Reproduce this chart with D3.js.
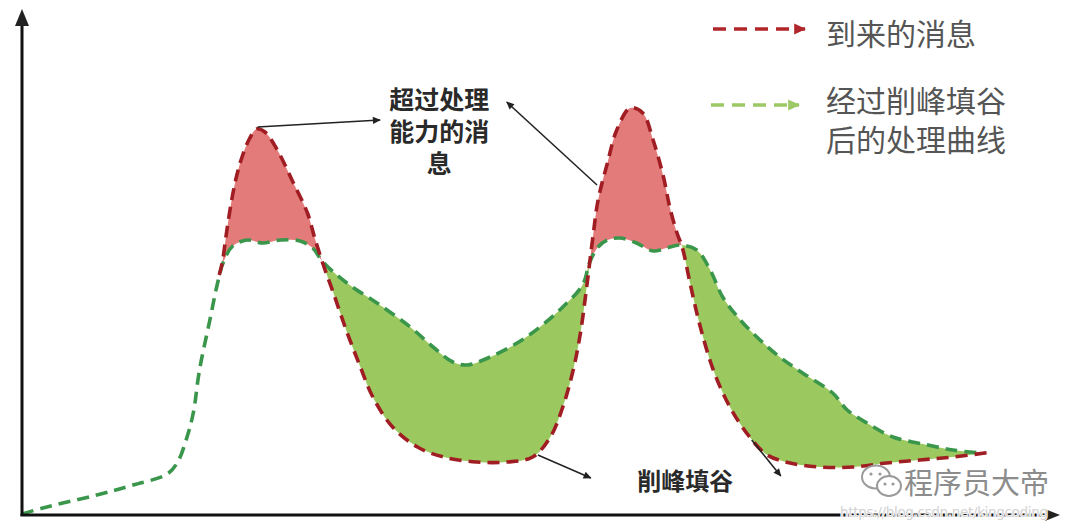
<!DOCTYPE html>
<html><head><meta charset="utf-8">
<script src="https://cdn.jsdelivr.net/npm/d3@7"></script>
<style>html,body{margin:0;padding:0;background:#fff;} svg{display:block;}</style>
</head><body>
<svg id="chart" width="1080" height="529"></svg>
<script>
// ---- data (time units 0..100, load units 0..100) ----
const processedT = [0,2.0,7.2,10.7,14.0,15.0,15.9,16.5,17.1,18.1,18.8,19.4,20.3,21.7,23.2,24.9,26.8,28.0,29.0,31.3,34.2,37.4,39.6,41.5,42.9,45.1,47.7,49.9,52.1,54.0,54.7,55.5,56.4,57.6,59.2,60.8,62.1,63.4,65.0,66.3,67.5,69.2,71.1,73.0,75.2,78.1,79.5,81.4,83.9,86.8,89.7,92.3];
const processedV = [0,1.2,3.8,5.8,8.0,10.4,15.4,20.2,28.8,38.8,45.8,50.4,53.6,54.8,54.2,54.8,54.6,53.2,50.4,46.2,42.2,37.4,33.4,30.4,29.8,31.4,34.2,37.4,41.4,45.8,50.4,53.4,54.8,55.2,54.2,52.6,53.2,53.8,52.8,48.8,43.4,38.8,34.8,31.4,28.2,24.2,20.8,18.2,15.4,14.0,12.8,12.2];
const arrivalT = [19.0,19.3,19.7,20.2,20.7,21.2,21.9,22.6,23.4,24.6,26.1,27.5,28.2,29.0,30.0,31.3,32.6,33.8,35.7,38.1,40.6,43.8,46.7,49.2,50.9,52.1,53.1,53.8,54.4,55.0,55.5,56.4,57.3,58.6,59.8,60.8,61.8,62.4,63.1,63.6,64.4,65.3,66.6,68.2,70.1,71.8,74.0,76.9,80.1,83.3,86.5,89.7,93.5];
const arrivalV = [47.8,50.4,56.2,62.8,67.8,71.4,75.0,77.0,76.4,72.8,66.4,60.2,55.2,50.0,44.2,36.4,29.4,23.4,17.4,13.4,11.4,10.4,10.4,11.4,15.4,21.4,28.8,36.2,45.4,55.4,62.8,70.2,76.8,81.2,80.2,74.8,67.4,61.4,56.2,53.4,45.8,37.8,28.8,21.4,15.4,11.8,10.2,9.4,9.4,10.2,10.8,11.4,12.4];

const legendLabels = [["到来的消息"], ["经过削峰填谷", "后的处理曲线"]];
const overLabel = ["超过处理", "能力的消", "息"];
const shaveLabel = ["削峰填谷"];
// annotation arrows: [fromT, fromV, toT, toV]
const arrows = [[22.7,77.4,34.5,78.8],[55.4,65.8,46.7,82.4],[49.7,11.8,54.8,7.2],[70.3,14.8,73.1,7.6]];
const overAnchor = [40.2, 83.0];
const shaveAnchor = [63.9, 6.8];

// ---- setup ----
const svg = d3.select("#chart");
const x = d3.scaleLinear().domain([0,100]).range([22,1060]);
const y = d3.scaleLinear().domain([0,100]).range([514,14]);
const FONT = "Lato,'Noto Sans CJK SC','Noto Sans',sans-serif";

const processed = processedT.map((t,i)=>({t, v: processedV[i]}));
const arrival = arrivalT.map((t,i)=>({t, v: arrivalV[i]}));
const curve = d3.curveCatmullRom.alpha(0.5);

const defs = svg.append("defs");
function marker(id, color, w, h){
  defs.append("marker").attr("id", id).attr("viewBox","0 0 10 10")
    .attr("refX", 9).attr("refY", 5).attr("markerWidth", w).attr("markerHeight", h)
    .attr("markerUnits","userSpaceOnUse").attr("orient","auto")
    .append("path").attr("d","M0,0.5 L10,5 L0,9.5 Z").attr("fill", color);
}
marker("arrBlack", "#222", 10, 8);
marker("arrRed", "#b0262b", 12, 12);
marker("arrGreen", "#9cc866", 12, 12);

const aboveArea = d3.area().curve(curve).x(d=>x(d.t)).y0(0).y1(d=>y(d.v));
const underArea = d3.area().curve(curve).x(d=>x(d.t)).y0(y(0)).y1(d=>y(d.v));
const line = d3.line().curve(curve).x(d=>x(d.t)).y(d=>y(d.v));

defs.append("clipPath").attr("id","aboveGreen").append("path").attr("d", aboveArea(processed));
defs.append("clipPath").attr("id","aboveRed").append("path").attr("d", aboveArea(arrival));

// fills
svg.append("path").attr("d", underArea(arrival)).attr("fill","#e27b79").attr("clip-path","url(#aboveGreen)");
svg.append("path").attr("d", underArea(processed)).attr("fill","#9cc95f").attr("clip-path","url(#aboveRed)");

// lines
svg.append("path").attr("d", line(processed)).attr("fill","none").attr("stroke","#3a964b")
  .attr("stroke-width",3.6).attr("stroke-dasharray","12,7").attr("stroke-linecap","butt");
svg.append("path").attr("d", line(arrival)).attr("fill","none").attr("stroke","#a01e23")
  .attr("stroke-width",3.6).attr("stroke-dasharray","12,7").attr("stroke-linecap","butt");

// axes
const ax = svg.append("g");
ax.append("line").attr("x1", x(0)).attr("y1", y(0)+2).attr("x2", x(0)).attr("y2", 24)
  .attr("stroke","#111").attr("stroke-width",3);
ax.append("path").attr("d", `M${x(0)},9 L${x(0)-7},26 L${x(0)+7},26 Z`).attr("fill","#222");
ax.append("line").attr("x1", x(0)-1.5).attr("y1", y(0)+1).attr("x2", 1048).attr("y2", y(0)+1)
  .attr("stroke","#111").attr("stroke-width",3);
ax.append("path").attr("d", `M1060,${y(0)+1} L1045,${y(0)-5} L1045,${y(0)+7} Z`).attr("fill","#222");

// annotation arrows
svg.append("g").selectAll("line").data(arrows).join("line")
  .attr("x1", d=>x(d[0])).attr("y1", d=>y(d[1])).attr("x2", d=>x(d[2])).attr("y2", d=>y(d[3]))
  .attr("stroke","#222").attr("stroke-width",1.5).attr("marker-end","url(#arrBlack)");

// annotation texts (multi-line as one text with tspans)
const overText = svg.append("text")
  .attr("x", x(overAnchor[0])).attr("y", y(overAnchor[1]))
  .attr("text-anchor","middle").attr("dominant-baseline","central")
  .attr("font-family", FONT).attr("font-weight",700).attr("font-size",25).attr("fill","#2a2a2a");
overText.selectAll("tspan").data(overLabel).join("tspan")
  .attr("x", x(overAnchor[0])).attr("dy", (d,i)=> i===0 ? 0 : 32).text(d=>d);

svg.append("g").selectAll("text").data(shaveLabel).join("text")
  .attr("x", x(shaveAnchor[0])).attr("y", y(shaveAnchor[1]))
  .attr("text-anchor","middle").attr("dominant-baseline","central")
  .attr("font-family", FONT).attr("font-weight",700).attr("font-size",24).attr("fill","#2a2a2a")
  .text(d=>d);

// legend
const lg = svg.append("g");
const legendRows = [{c:"#b0262b", m:"arrRed", y:29, ty:33}, {c:"#9cc866", m:"arrGreen", y:105, ty:100}];
legendRows.forEach((r, i)=>{
  lg.append("line").attr("x1", i===0?713:711).attr("x2", i===0?805:799).attr("y1", r.y).attr("y2", r.y)
    .attr("stroke", r.c).attr("stroke-width",3.5).attr("stroke-dasharray","13,8")
    .attr("marker-end", `url(#${r.m})`);
  const t = lg.append("text").attr("x", 826).attr("y", r.ty).attr("dominant-baseline","central")
    .attr("font-family", FONT).attr("font-size",30).attr("fill","#555");
  t.selectAll("tspan").data(legendLabels[i]).join("tspan")
    .attr("x", 826).attr("dy", (d,j)=> j===0 ? 0 : 39).text(d=>d);
});

// watermark
const wm = svg.append("g");
wm.append("ellipse").attr("cx",876).attr("cy",477).attr("rx",14).attr("ry",11.5)
  .attr("fill","#fff").attr("stroke","#9a9a9a").attr("stroke-width",2);
wm.append("ellipse").attr("cx",889).attr("cy",486).attr("rx",12).attr("ry",10)
  .attr("fill","#fff").attr("stroke","#9a9a9a").attr("stroke-width",2);
[[871,474],[880,474],[885,484],[893,484]].forEach(p=>wm.append("circle").attr("cx",p[0]).attr("cy",p[1]).attr("r",1.6).attr("fill","#9a9a9a"));
wm.append("text").attr("x", 904).attr("y", 482).attr("dominant-baseline","central")
  .attr("font-family", FONT).attr("font-size",29).attr("fill","#8c8c8c")
  .attr("stroke","#fff").attr("stroke-width",3).attr("paint-order","stroke").text("程序员大帝");
wm.append("text").attr("x", 840).attr("y", 512).attr("dominant-baseline","central")
  .attr("font-family","'DejaVu Sans',sans-serif").attr("font-size",13.5).attr("fill","#d2d2d2")
  .attr("stroke","#fff").attr("stroke-width",1.5).attr("paint-order","stroke")
  .attr("textLength",208).text("https://blog.csdn.net/kingcoding");
</script>
</body></html>
